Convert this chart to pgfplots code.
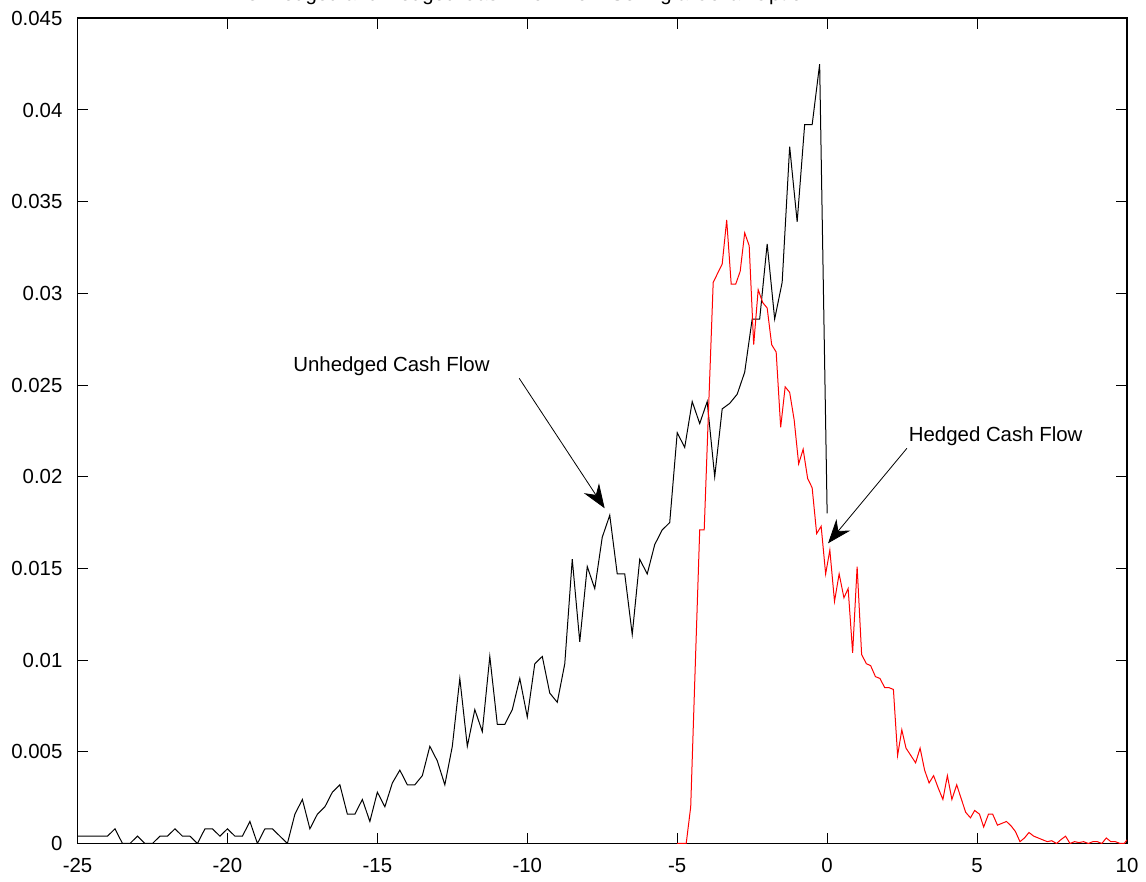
\documentclass[border=0pt]{standalone}
\usepackage{fontspec}
\setmainfont{Liberation Sans}
\usepackage{pgfplots}
\pgfplotsset{compat=1.18}
\usetikzlibrary{arrows.meta}
\begin{document}
\begin{tikzpicture}
\begin{axis}[
  scale only axis,
  width=524.75pt, height=412.6pt,
  xmin=-25, xmax=10, ymin=0, ymax=0.045,
  xtick={-25,-20,...,10},
  ytick={0,0.005,0.01,0.015,0.02,0.025,0.03,0.035,0.04,0.045},
  tick align=inside,
  major tick length=5.3pt,
  xtick pos=both, ytick pos=both,
  xticklabel pos=lower, yticklabel pos=left,
  scaled y ticks=false,
  /pgf/number format/assume math mode=true,
  yticklabel style={/pgf/number format/fixed,/pgf/number format/precision=3, xshift=-4pt},
  xticklabel style={yshift=-4pt},
  tick label style={font=\fontsize{10.2}{12}\selectfont},
  axis line style={line width=0.8pt},
  tick style={line width=0.5pt, black},
]
\coordinate (sw) at (rel axis cs:0,0);
\coordinate (ne) at (rel axis cs:1,1);
\addplot[black, line width=0.5pt] coordinates {
(-25,0.0004)(-24.75,0.0004)(-24.5,0.0004)(-24.25,0.0004)(-24,0.0004)
(-23.75,0.0008)(-23.5,0)(-23.25,0)(-23,0.0004)(-22.75,0)(-22.5,0)
(-22.25,0.0004)(-22,0.0004)(-21.75,0.0008)(-21.5,0.0004)(-21.25,0.0004)
(-21,0)(-20.75,0.0008)(-20.5,0.0008)(-20.25,0.0004)(-20,0.0008)
(-19.75,0.0004)(-19.5,0.0004)(-19.25,0.0012)(-19,0)(-18.75,0.0008)
(-18.5,0.0008)(-18.25,0.0004)(-18,0)(-17.75,0.0016)(-17.5,0.0024)
(-17.25,0.0008)(-17,0.0016)(-16.75,0.0020)(-16.5,0.0028)(-16.25,0.0032)
(-16,0.0016)(-15.75,0.0016)(-15.5,0.0024)(-15.25,0.0012)(-15,0.0028)
(-14.75,0.0020)(-14.5,0.0033)(-14.25,0.0040)(-14,0.0032)(-13.75,0.0032)
(-13.5,0.0037)(-13.25,0.0053)(-13,0.0045)(-12.75,0.0032)(-12.5,0.0053)
(-12.25,0.0090)(-12,0.0053)(-11.75,0.0073)(-11.5,0.0061)(-11.25,0.0102)
(-11,0.0065)(-10.75,0.0065)(-10.5,0.0073)(-10.25,0.0090)(-10,0.0069)
(-9.75,0.0098)(-9.5,0.0102)(-9.25,0.0082)(-9,0.0077)(-8.75,0.0098)
(-8.5,0.0155)(-8.25,0.0110)(-8,0.0151)(-7.75,0.0139)(-7.5,0.0167)
(-7.25,0.0179)(-7,0.0147)(-6.75,0.0147)(-6.5,0.0114)(-6.25,0.0155)
(-6,0.0147)(-5.75,0.0163)(-5.5,0.0171)(-5.25,0.0175)(-5,0.0224)
(-4.75,0.0216)(-4.5,0.0241)(-4.25,0.0229)(-4,0.0241)(-3.75,0.0200)
(-3.5,0.0237)(-3.25,0.0240)(-3,0.0245)(-2.75,0.0257)(-2.5,0.0286)
(-2.25,0.0286)(-2,0.0327)(-1.75,0.0286)(-1.5,0.0306)(-1.25,0.0380)
(-1,0.0339)(-0.75,0.0392)(-0.5,0.0392)(-0.25,0.0425)(0,0.0180)
};
\addplot[red, line width=0.5pt] coordinates {
(-5.0,0)(-4.85,0)(-4.7,0)(-4.55,0.0020)(-4.4,0.0096)(-4.25,0.0171)
(-4.1,0.0171)(-3.95,0.0239)(-3.8,0.0306)(-3.65,0.0311)(-3.5,0.0316)
(-3.35,0.0340)(-3.2,0.0305)(-3.05,0.0305)(-2.9,0.0312)(-2.75,0.0333)
(-2.6,0.0326)(-2.45,0.0272)(-2.3,0.0302)(-2.15,0.0295)(-2.0,0.0292)
(-1.85,0.0272)(-1.7,0.0268)(-1.55,0.0227)(-1.4,0.0249)(-1.25,0.0246)
(-1.1,0.0231)(-0.95,0.0207)(-0.8,0.0215)(-0.65,0.0199)(-0.5,0.0194)
(-0.35,0.0169)(-0.2,0.0173)(-0.05,0.0147)(0.09,0.0160)(0.245,0.0132)
(0.40,0.0147)(0.56,0.0134)(0.70,0.0139)(0.85,0.0104)(1.0,0.0151)
(1.15,0.0103)(1.31,0.0098)(1.45,0.0097)(1.61,0.0091)(1.76,0.0090)
(1.92,0.0085)(2.06,0.0085)(2.21,0.0084)(2.35,0.0048)(2.49,0.0062)
(2.63,0.0052)(2.79,0.0048)(2.95,0.0044)(3.10,0.0052)(3.25,0.0040)
(3.40,0.0033)(3.55,0.0037)(3.71,0.0030)(3.86,0.0024)(4.01,0.0037)
(4.16,0.0024)(4.32,0.0032)(4.46,0.0025)(4.62,0.0017)(4.78,0.0014)
(4.92,0.0018)(5.08,0.0016)(5.22,0.0009)(5.38,0.0016)(5.52,0.0016)
(5.68,0.0010)(5.83,0.0011)(5.98,0.0012)(6.14,0.00095)(6.28,0.00065)
(6.43,0.0001)(6.58,0.0003)(6.73,0.0006)(6.89,0.0004)(7.04,0.0003)
(7.19,0.0002)(7.34,0.0001)(7.49,0.00015)(7.65,0)(7.79,0.0002)
(7.95,0.0004)(8.10,0)(8.25,0.0001)(8.40,0.00005)(8.55,0.0001)
(8.71,0)(8.86,0.0001)(9.01,0.0001)(9.16,0)(9.31,0.0003)
(9.46,0.0001)(9.61,0.0001)(9.77,0)(9.91,0)(10.0,0.0002)
};
\draw[line width=0.4pt, -{Stealth[length=12pt,width=9pt,inset=4pt]}]
  (axis cs:-10.27,0.02537) -- (axis cs:-7.42,0.01828);
\draw[line width=0.4pt, -{Stealth[length=12pt,width=9pt,inset=4pt]}]
  (axis cs:2.66,0.02155) -- (axis cs:0.03,0.01637);
\node[font=\fontsize{10.2}{12}\selectfont] at (axis cs:-14.53,0.02604) {Unhedged Cash Flow};
\node[font=\fontsize{10.2}{12}\selectfont] at (axis cs:5.62,0.02222) {Hedged Cash Flow};
\end{axis}
\node[anchor=base, font=\fontsize{10.2}{12}\selectfont] at ([xshift=226pt, yshift=8.8pt]sw |- ne) {Unhedged and Hedged Cash Flow from Selling a Collar Option};
\pgfresetboundingbox
\useasboundingbox ([xshift=-38.75pt,yshift=-19.25pt]sw) rectangle ([xshift=9.5pt,yshift=9.15pt]ne);
\end{tikzpicture}
\end{document}
